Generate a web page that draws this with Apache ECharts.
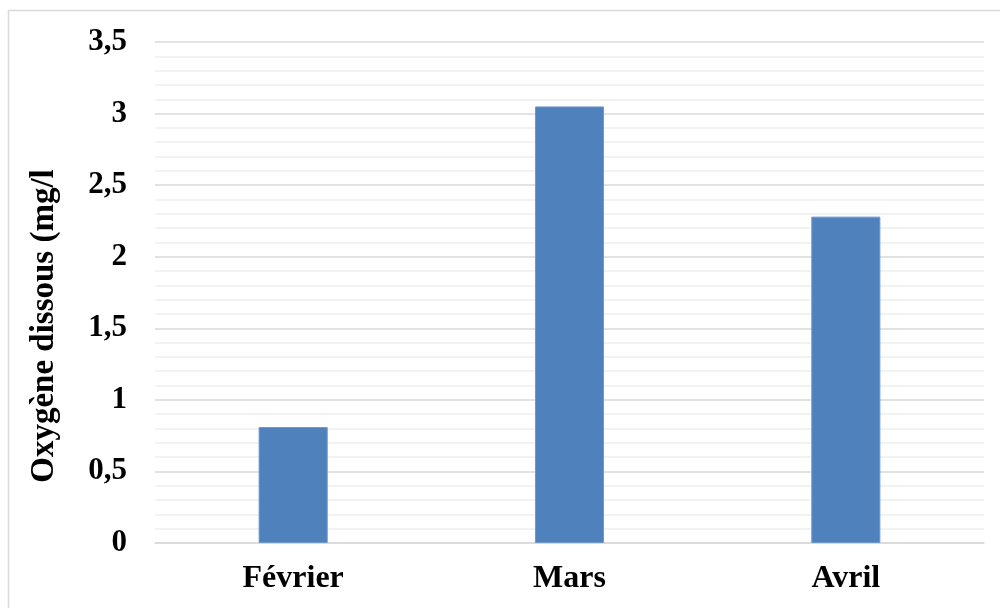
<!DOCTYPE html>
<html>
<head>
<meta charset="utf-8">
<script src="https://cdn.jsdelivr.net/npm/echarts@6/dist/echarts.min.js"></script>
<style>
html, body { margin: 0; padding: 0; background: #fff; }
</style>
</head>
<body>
<div id="ch" style="width: 1000px; height: 608px;"></div>

<script>
var months = ['Février', 'Mars', 'Avril']
var oxygen = [0.81, 3.05, 2.28]
var yTicks = [0, 0.5, 1, 1.5, 2, 2.5, 3, 3.5]

var font = '"Liberation Serif", "Times New Roman", serif'

var chartInst = echarts.init(document.getElementById('ch'))

var option = {
    animation: false,
    backgroundColor: '#fff',
    grid: { left: 155, right: 16, top: 42, bottom: 65 },
    graphic: [{
        type: 'rect',
        shape: { x: 8.5, y: 10.5, width: 1000, height: 700 },
        style: { fill: 'none', stroke: '#d9d9d9', lineWidth: 1.5 },
        silent: true
    }, {
        type: 'text',
        x: 44,
        y: 326,
        rotation: Math.PI / 2,
        style: {
            text: 'Oxygène dissous (mg/l',
            font: 'bold 33px ' + font,
            fill: '#000',
            align: 'center',
            verticalAlign: 'middle'
        }
    }],
    xAxis: {
        type: 'category',
        data: months,
        axisTick: { show: false },
        axisLine: { lineStyle: { color: '#d9d9d9', width: 1.5 } },
        axisLabel: {
            margin: 20,
            color: '#000',
            fontFamily: font,
            fontWeight: 'bold',
            fontSize: 32
        }
    },
    yAxis: {
        type: 'value',
        min: yTicks[0],
        max: yTicks[yTicks.length - 1],
        interval: 0.5,
        axisLine: { show: false },
        axisTick: { show: false },
        minorTick: { show: false, splitNumber: 5 },
        splitLine: { lineStyle: { color: '#d9d9d9', width: 1.5 } },
        minorSplitLine: { show: true, lineStyle: { color: '#f0f0f0', width: 1.5 } },
        axisLabel: {
            margin: 28,
            color: '#000',
            fontFamily: font,
            fontWeight: 'bold',
            fontSize: 31,
            formatter: function(v) {
                return String(v).replace('.', ',')
            }
        }
    },
    series: [{
        type: 'bar',
        data: oxygen,
        barWidth: '25%',
        itemStyle: {
            color: '#4f81bd',
            borderColor: '#6f97c9',
            borderWidth: 1
        }
    }]
}
chartInst.setOption(option)
</script>
</body>
</html>
